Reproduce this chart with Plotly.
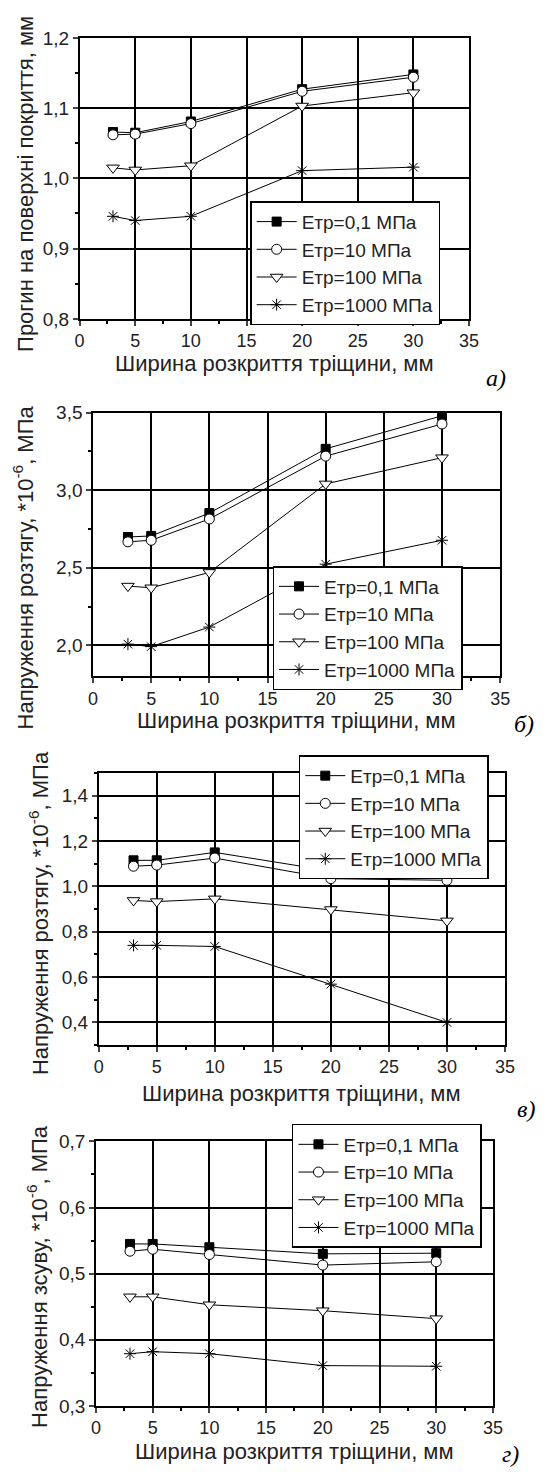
import plotly.graph_objects as go

W, H = 551, 1482

x_vals = [3, 5, 10, 20, 30]
series_names = ["Етр=0,1 МПа", "Етр=10 МПа", "Етр=100 МПа", "Етр=1000 МПа"]

# Panel а) deflection
a_e01 = [1.066, 1.065, 1.081, 1.127, 1.148]
a_e10 = [1.062, 1.063, 1.078, 1.124, 1.144]
a_e100 = [1.015, 1.012, 1.018, 1.103, 1.122]
a_e1000 = [0.946, 0.940, 0.946, 1.011, 1.016]

# Panel б) tensile stress
b_e01 = [2.698, 2.705, 2.852, 3.266, 3.479]
b_e10 = [2.667, 2.677, 2.814, 3.219, 3.426]
b_e100 = [2.382, 2.371, 2.470, 3.040, 3.209]
b_e1000 = [2.008, 1.992, 2.118, 2.523, 2.677]

# Panel в) tensile stress
c_e01 = [1.115, 1.115, 1.150, 1.068, 1.060]
c_e10 = [1.089, 1.094, 1.125, 1.034, 1.027]
c_e100 = [0.938, 0.933, 0.945, 0.898, 0.848]
c_e1000 = [0.740, 0.740, 0.735, 0.569, 0.400]

# Panel г) shear stress
d_e01 = [0.545, 0.545, 0.540, 0.530, 0.531]
d_e10 = [0.534, 0.537, 0.529, 0.513, 0.518]
d_e100 = [0.465, 0.465, 0.453, 0.444, 0.432]
d_e1000 = [0.379, 0.382, 0.379, 0.361, 0.360]

x_title = "Ширина розкриття тріщини, мм"
y_titles = [
    "Прогин на поверхні покриття, мм",
    "Напруження розтягу, *10<sup>-6</sup>, МПа",
    "Напруження розтягу, *10<sup>-6</sup>, МПа",
    "Напруження зсуву, *10<sup>-6</sup>, МПа",
]
panel_labels = ["а)", "б)", "в)", "г)"]
y_ranges = [[0.8, 1.2], [1.8, 3.5], [0.3, 1.5], [0.3, 0.7]]
y_dticks = [0.1, 0.5, 0.2, 0.1]
y_tick0 = [0.8, 2.0, 0.4, 0.3]

panels = [
    [a_e01, a_e10, a_e100, a_e1000],
    [b_e01, b_e10, b_e100, b_e1000],
    [c_e01, c_e10, c_e100, c_e1000],
    [d_e01, d_e10, d_e100, d_e1000],
]

# layout geometry in pixels: (left, right, top, bottom)
boxes = [
    (76.7, 477.0, 28.3, 313.3),
    (90.5, 509.0, 408.3, 676.0),
    (96.3, 514.0, 774.0, 1050.0),
    (93.5, 501.6, 1147.7, 1416.0),
]
legend_pos = [(252, 194), (275, 564), (302, 756), (295, 1130)]
xtitle_y = [359, 721, 1099, 1462]
ytitle_x = [21, 19, 35, 33]
ytitle_y = [176, 565, 916, 1285]
label_pos = [(505, 373), (534, 724), (536, 1115), (520, 1465)]

symbols = ["square", "circle", "triangle-down", "asterisk-open"]
sizes = [9, 10, 11, 10]
fills = ["black", "white", "white", "black"]

FONT = "Liberation Sans, Arial, sans-serif"
TXT = "#222"

fig = go.Figure()
layout = dict(
    width=W, height=H, margin=dict(l=0, r=0, t=0, b=0),
    paper_bgcolor="white", plot_bgcolor="white",
    separators=", ",
    font=dict(family=FONT, size=19, color=TXT),
    showlegend=True,
)
annotations = []

for i, (vals, box) in enumerate(zip(panels, boxes)):
    n = "" if i == 0 else str(i + 1)
    xa, ya = "x" + n, "y" + n
    lg = "legend" + n
    for j, (name, v) in enumerate(zip(series_names, vals)):
        fig.add_trace(go.Scatter(
            x=x_vals, y=v, name=name, mode="lines+markers",
            xaxis=xa, yaxis=ya, legend=lg,
            line=dict(color="black", width=1),
            marker=dict(symbol=symbols[j], size=sizes[j], color=fills[j],
                        line=dict(color="black", width=1)),
        ))
    l, r, t, b = box
    layout["xaxis" + n] = dict(
        domain=[l / W, r / W], anchor=ya, range=[0, 35],
        tick0=0, dtick=5, ticks="outside", ticklen=5, tickwidth=1.5,
        minor=dict(ticks="outside", ticklen=3, dtick=2.5, tickcolor="black", showgrid=False),
        showgrid=True, gridcolor="black", gridwidth=1.5,
        showline=True, linecolor="black", linewidth=1.5, mirror=True,
        zeroline=False, tickfont=dict(size=18, color=TXT),
    )
    layout["yaxis" + n] = dict(
        domain=[1 - b / H, 1 - t / H], anchor=xa, range=y_ranges[i],
        tick0=y_tick0[i], dtick=y_dticks[i], tickformat=".1f",
        ticks="outside", ticklen=5, tickwidth=1.5,
        minor=dict(ticks="outside", ticklen=3, dtick=y_dticks[i] / 2, tickcolor="black", showgrid=False),
        showgrid=True, gridcolor="black", gridwidth=1.5,
        showline=True, linecolor="black", linewidth=1.5, mirror=True,
        zeroline=False, tickfont=dict(size=19, color=TXT),
    )
    lx, ly = legend_pos[i]
    layout[lg] = dict(
        x=lx / W, y=1 - ly / H, xanchor="left", yanchor="top",
        xref="paper", yref="paper",
        bgcolor="white", bordercolor="black", borderwidth=1.5,
        font=dict(size=19, family=FONT, color=TXT),
        itemwidth=40, tracegroupgap=0,
    )
    annotations.append(dict(
        text=x_title, xref="paper", yref="paper",
        x=(l + r) / 2 / W, y=1 - xtitle_y[i] / H, xanchor="center", yanchor="middle",
        showarrow=False, font=dict(size=22, family=FONT, color=TXT),
    ))
    annotations.append(dict(
        text=y_titles[i], xref="paper", yref="paper",
        x=ytitle_x[i] / W, y=1 - ytitle_y[i] / H, xanchor="center", yanchor="middle",
        textangle=-90, showarrow=False, font=dict(size=22, family=FONT, color=TXT),
    ))
    px, py = label_pos[i]
    annotations.append(dict(
        text="<i>" + panel_labels[i] + "</i>", xref="paper", yref="paper",
        x=px / W, y=1 - py / H, xanchor="center", yanchor="middle",
        showarrow=False, font=dict(size=24, family="Liberation Serif, Times New Roman, serif", color="black"),
    ))

layout["annotations"] = annotations
fig.update_layout(**layout)
fig.write_html(
    "out.html",
    config={"displayModeBar": False},
    post_script="document.body.style.margin='0';document.body.style.padding='0';document.body.style.overflow='hidden';",
)
